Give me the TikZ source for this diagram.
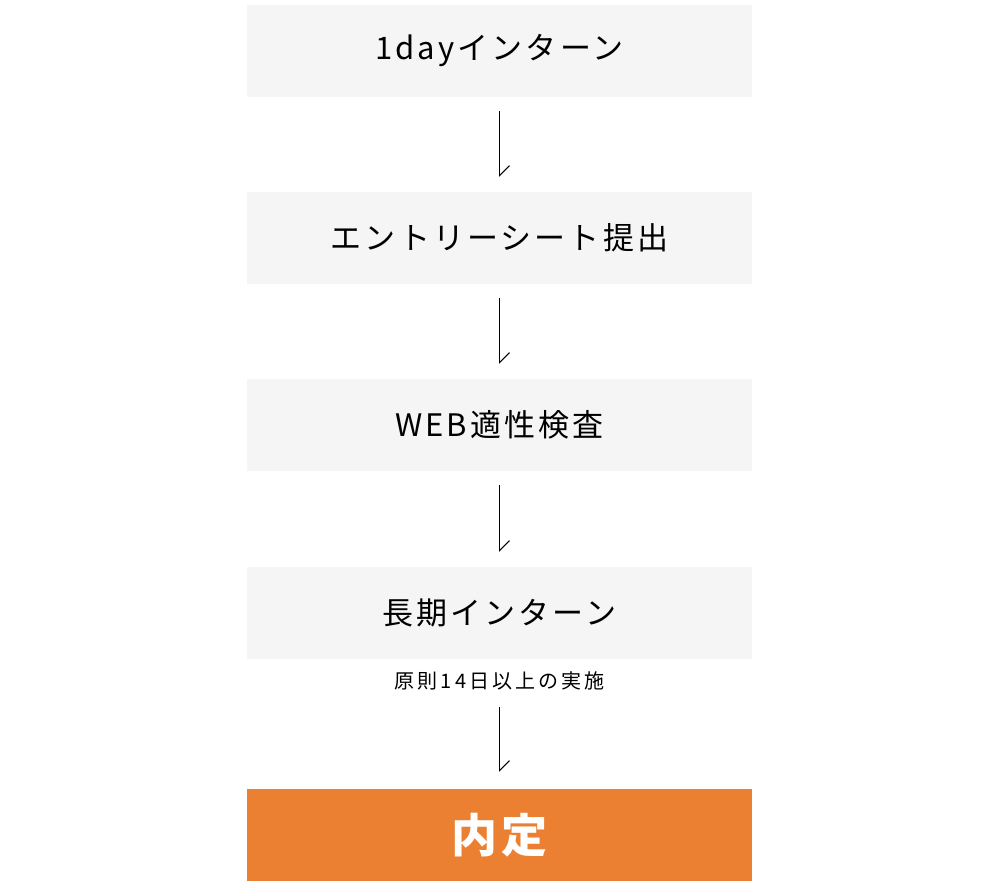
\documentclass[tikz,border=0pt]{standalone}
\usepackage{fontspec}
\usepackage{xcolor}
\usetikzlibrary{arrows.meta}
\newfontfamily\jp[LetterSpace=10]{Noto Sans CJK JP}
\newfontfamily\jpsmall[LetterSpace=15]{Noto Sans CJK JP}
\definecolor{boxgray}{RGB}{245,245,245}
\definecolor{offer}{RGB}{236,128,50}

\begin{document}
\begin{tikzpicture}[x=1pt,y=-1pt]
      \useasboundingbox(0,0) rectangle (1000,881);
      \tikzset{B/.style = {shape=rectangle, fill=boxgray, minimum width=505pt, minimum height=92pt, inner sep=0pt, text=black, font=\jp\fontsize{31}{36}\selectfont}}
      \tikzset{E/.style = {draw, line width=1pt, -{Straight Barb[left,length=10pt,width=20pt]}}}
      \node[B](intern) at (499.5,51) {1dayインターン};
      \node[B](entry) at (499.5,238) {エントリーシート提出};
      \node[B](web) at (499.5,425) {WEB適性検査};
      \node[B](long) at (499.5,613) {長期インターン};
      \node[inner sep=0pt,font=\jpsmall\fontsize{20}{24}\selectfont](note) at (499.5,681) {原則14日以上の実施};
      \node[B,fill=offer,text=white,font=\jp\bfseries\fontsize{46}{52}\selectfont](naitei) at (499.5,835) {内定};
      \draw[E]([yshift=-14pt]intern.south) to ([yshift=15pt]entry.north);
      \draw[E]([yshift=-14pt]entry.south) to ([yshift=15pt]web.north);
      \draw[E]([yshift=-14pt]web.south) to ([yshift=15pt]long.north);
      \draw[E]([yshift=-48pt]long.south) to ([yshift=17pt]naitei.north);
    \end{tikzpicture}
\end{document}
